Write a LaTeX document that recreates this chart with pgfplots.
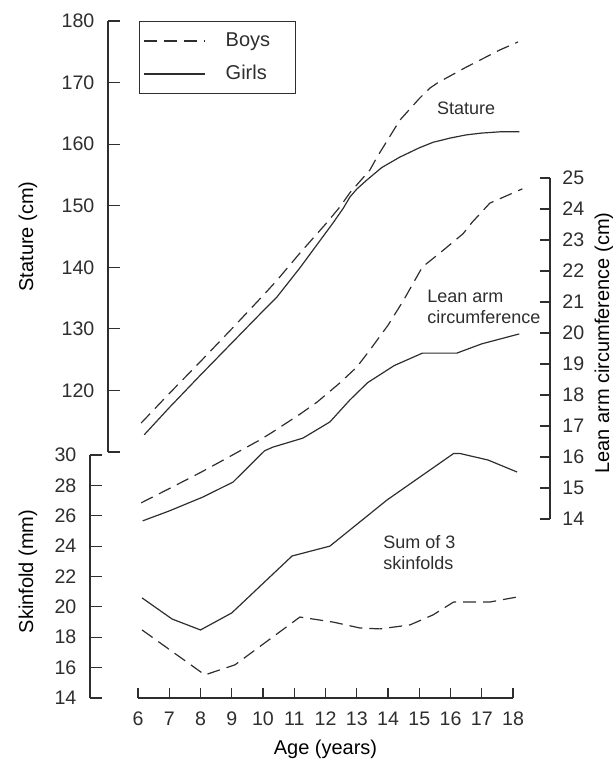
\documentclass[border=0pt]{standalone}
\usepackage{pgfplots}
\pgfplotsset{compat=1.18}
\usepackage{fontspec}
\setmainfont{Liberation Sans}
\definecolor{ink}{HTML}{2E2E2E}
\pgfplotsset{
  base/.style={scale only axis, clip=false, tick align=inside,
    /pgf/number format/assume math mode=true,
    axis line style={ink, line width=0.55pt},
    every tick/.style={ink, line width=0.55pt},
    ticklabel style={font=\fontsize{9.8}{11}\selectfont, text=ink},
    label style={font=\fontsize{10.5}{12}\selectfont, text=ink},
  },
  boys/.style={ink, line width=0.6pt, dash pattern=on 6.5pt off 3.5pt},
  girls/.style={ink, line width=0.6pt},
}
\begin{document}
\begin{tikzpicture}
\useasboundingbox (0,0) rectangle (306.5pt,380pt);
% Stature axis
\begin{axis}[base, at={(54pt,154pt)}, anchor=south west, width=221pt, height=215.5pt,
  xmin=5.04, xmax=19.184, ymin=110, ymax=180,
  axis y line*=left, axis x line=none,
  ytick={110,120,...,180}, yticklabels={,120,130,140,150,160,170,180},
  major tick length=6pt, yticklabel style={xshift=-3.3pt},
  ylabel={Stature (cm)},
  every axis y label/.style={at={(axis description cs:-0.181,0.5)}, rotate=90, anchor=center},
  legend style={at={(rel axis cs:0.070,1)}, anchor=north west, draw=ink, line width=0.55pt,
    font=\fontsize{10}{11}\selectfont, text=ink, inner xsep=2pt, inner ysep=3.5pt,
    row sep=4pt, cells={anchor=west},
    /tikz/every odd column/.append style={column sep=8pt}},
  legend image code/.code={\draw[#1] (0pt,0pt) -- (30.5pt,0pt);},
]
\addplot[boys] coordinates {(6.1,114.7) (7.0,119.5) (8.0,124.7) (9.0,130.0) (10.0,135.4) (10.45,137.9) (11.18,142.3) (12.0,147.0) (12.46,149.8) (12.78,152.1) (13.42,155.8) (13.65,157.9) (14.38,163.9) (15.0,167.4) (15.34,169.1) (15.6,170.0) (16.5,172.5) (17.58,175.3) (18.16,176.6)};
\addlegendentry{\makebox[31pt][l]{Boys}}
\addplot[girls] coordinates {(6.2,112.8) (7.0,117.2) (8.0,122.5) (9.0,127.7) (10.0,132.9) (10.45,135.2) (11.18,139.9) (12.24,147.2) (12.57,149.6) (12.78,151.4) (13.0,152.7) (13.33,154.2) (13.8,156.2) (14.38,157.9) (15.0,159.4) (15.44,160.3) (16.0,161.0) (16.5,161.5) (17.0,161.8) (17.58,162.0) (18.2,162.0)};
\addlegendentry{\makebox[31pt][l]{Girls}}
\node[font=\fontsize{9}{10.5}\selectfont, text=ink] at (axis cs:16.5,165.9) {Stature};
\node[font=\fontsize{9}{10.5}\selectfont, text=ink, anchor=west, align=left, inner sep=0pt] at (axis cs:15.25,133.5) {Lean arm\\circumference};
\end{axis}
% Lean arm axis (right)
\begin{axis}[base, at={(54pt,120.5pt)}, anchor=south west, width=221pt, height=170.5pt,
  xmin=5.04, xmax=19.184, ymin=14, ymax=25,
  axis y line*=right, axis x line=none,
  ytick={14,...,25}, major tick length=5pt, yticklabel style={xshift=2.7pt},
  ylabel={Lean arm circumference (cm)},
  every axis y label/.style={at={(axis description cs:1.122,0.516)}, rotate=90, anchor=center},
]
\addplot[boys] coordinates {(6.1,14.52) (7.0,14.98) (8.0,15.5) (8.62,15.84) (9.9,16.55) (10.3,16.8) (11.18,17.38) (11.73,17.77) (12.46,18.39) (13.0,18.9) (13.42,19.45) (14.0,20.25) (14.5,21.06) (15.1,22.13) (15.66,22.58) (16.4,23.2) (16.7,23.58) (17.26,24.19) (18.3,24.65)};
\addplot[girls] coordinates {(6.15,13.94) (7.0,14.26) (8.08,14.71) (9.04,15.19) (10.05,16.2) (10.32,16.32) (11.28,16.61) (12.14,17.13) (12.78,17.84) (13.35,18.4) (14.2,18.95) (15.1,19.35) (16.2,19.35) (17.0,19.65) (18.2,19.97)};
\end{axis}
% Skinfold axis with age axis
\begin{axis}[base, at={(69pt,31pt)}, anchor=south west, width=187.5pt, height=121.5pt,
  xmin=6, xmax=18, ymin=14, ymax=30,
  axis x line*=bottom, axis y line=none,
  xtick={6,...,18}, major tick length=5pt, xticklabel style={yshift=-3.5pt},
  xlabel={Age (years)},
  every axis x label/.style={at={(axis description cs:0.5,0)}, yshift=-25.5pt, anchor=center},
]
\addplot[boys] coordinates {(6.13,18.48) (8.14,15.52) (9.1,16.18) (11.18,19.33) (12.24,19.0) (13.1,18.61) (13.74,18.55) (14.7,18.81) (15.44,19.47) (16.1,20.32) (17.26,20.32) (18.13,20.65)};
\addplot[girls] coordinates {(6.13,20.59) (7.09,19.2) (8.0,18.48) (9.0,19.6) (10.93,23.35) (12.14,24.0) (13.97,27.04) (16.1,30.1) (16.3,30.1) (17.2,29.67) (18.13,28.88)};
\node[font=\fontsize{9}{10.5}\selectfont, text=ink, anchor=west, align=left, inner sep=0pt] at (axis cs:13.84,23.58) {Sum of 3\\skinfolds};
\end{axis}
% Skinfold y axis
\begin{axis}[base, at={(45pt,31pt)}, anchor=south west, width=211.5pt, height=121.5pt,
  xmin=4.464, xmax=18, ymin=14, ymax=30,
  axis y line*=left, axis x line=none,
  ytick={14,16,...,30}, major tick length=6pt, yticklabel style={xshift=-3.3pt},
  ylabel={Skinfold (mm)},
  every axis y label/.style={at={(axis description cs:-0.1466,0.52)}, rotate=90, anchor=center},
]
\addplot[draw=none] coordinates {(6,20) (18,20)};
\end{axis}
\end{tikzpicture}
\end{document}
